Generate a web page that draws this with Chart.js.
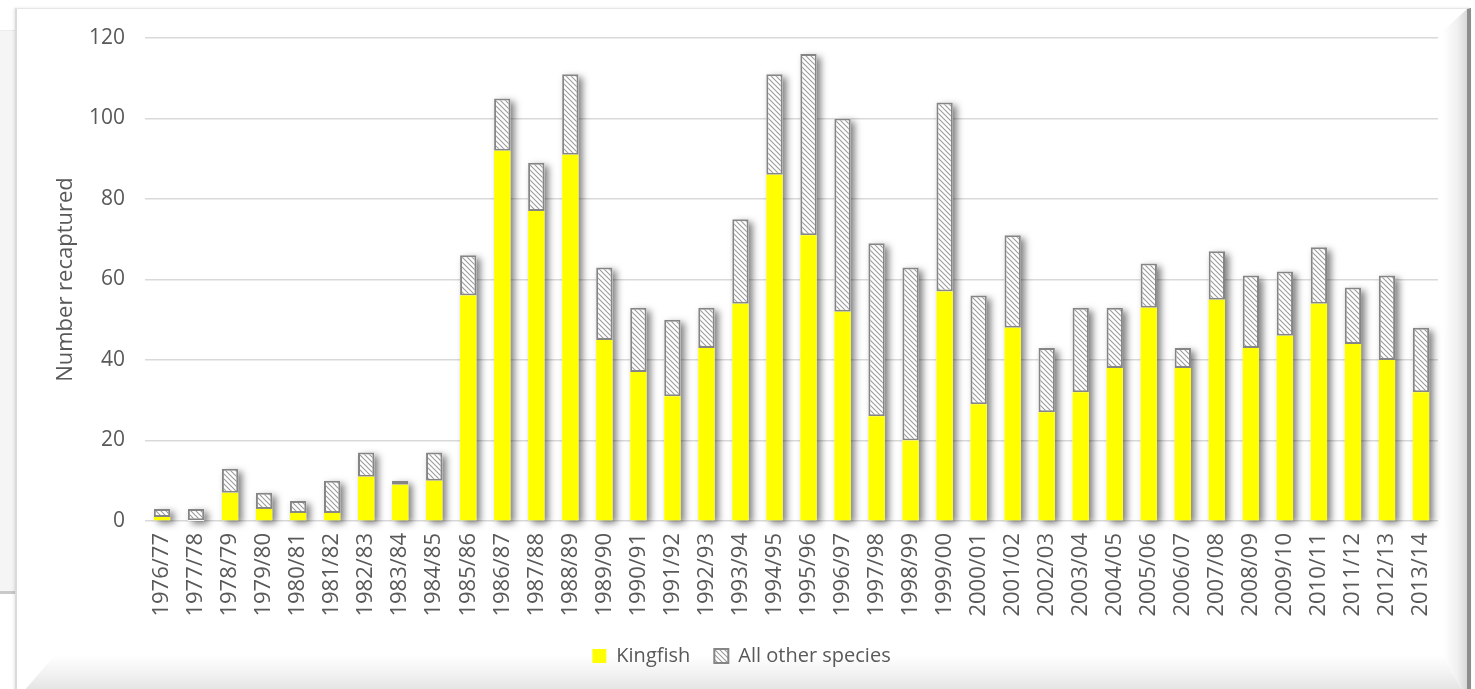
<!DOCTYPE html>
<html>
<head>
<meta charset="utf-8">
<script src="https://cdn.jsdelivr.net/npm/chart.js@4/dist/chart.umd.min.js"></script>
<style>
  html, body { margin: 0; padding: 0; background: #fff; width: 1475px; height: 689px; overflow: hidden; }
  #sidebox { position: absolute; left: 0; top: 30px; width: 16px; height: 560px; background: #f5f5f5; border-top: 1px solid #ececec; border-bottom: 3px solid #c9c9c9; }
  #card { position: absolute; left: 15px; top: 8px; width: 1450px; height: 690px; background: #fff;
          border-left: 2px solid #dadada; border-top: 1px solid #e6e6e6; border-right: 4px solid #8d8d8d;
          box-shadow: -1px 0 3px rgba(0,0,0,0.10); }
  #bevelB { position: absolute; left: 0; bottom: 0; width: 100%; height: 44px;
            background: linear-gradient(to bottom, #ffffff 0%, #f1f1f1 45%, #dcdcdc 100%);
            clip-path: polygon(38px 0, calc(100% - 24px) 0, 100% 100%, 0 100%); }
  #bevelR { position: absolute; right: 0; top: 0; width: 24px; height: 100%;
            background: linear-gradient(to right, #ffffff 0%, #f0f0f0 60%, #d8d8d8 100%);
            clip-path: polygon(0 22px, 100% 0, 100% 100%, 0 calc(100% - 44px)); }
  #chart { position: absolute; left: 0; top: 0; }
</style>
</head>
<body>
<div id="sidebox"></div>
<div id="card"><div id="bevelB"></div><div id="bevelR"></div></div>
<canvas id="chart" width="1475" height="689"></canvas>
<script>
// Fishing seasons
const seasons = [
  '1976/77','1977/78','1978/79','1979/80','1980/81','1981/82','1982/83','1983/84','1984/85','1985/86',
  '1986/87','1987/88','1988/89','1989/90','1990/91','1991/92','1992/93','1993/94','1994/95','1995/96',
  '1996/97','1997/98','1998/99','1999/00','2000/01','2001/02','2002/03','2003/04','2004/05','2005/06',
  '2006/07','2007/08','2008/09','2009/10','2010/11','2011/12','2012/13','2013/14'
];

// Tagged fish recaptured per season
const kingfish = [
  1, 0, 7, 3, 2, 2, 11, 9, 10, 56,
  92, 77, 91, 45, 37, 31, 43, 54, 86, 71,
  52, 26, 20, 57, 29, 48, 27, 32, 38, 53,
  38, 55, 43, 46, 54, 44, 40, 32
];
const otherSpecies = [
  2, 3, 6, 4, 3, 8, 6, 1, 7, 10,
  13, 12, 20, 18, 16, 19, 10, 21, 25, 45,
  48, 43, 43, 47, 27, 23, 16, 21, 15, 11,
  5, 12, 18, 16, 14, 14, 21, 16
];

const yMax = 120;
const yStep = 20;

const TEXT = '#595959';
const FONT = "'Open Sans', 'Noto Sans', sans-serif";

// Diagonal hatch fill for the "other species" segments
function makeHatch() {
  const s = 5;
  const c = document.createElement('canvas');
  c.width = s; c.height = s;
  const g = c.getContext('2d');
  g.fillStyle = '#ffffff';
  g.fillRect(0, 0, s, s);
  g.strokeStyle = '#9b9b9b';
  g.lineWidth = 1.1;
  g.beginPath();
  g.moveTo(-1, -1); g.lineTo(s + 1, s + 1);
  g.moveTo(-1, s - 1); g.lineTo(1, s + 1);
  g.moveTo(s - 1, -1); g.lineTo(s + 1, 1);
  g.stroke();
  return g.createPattern(c, 'repeat');
}
const hatch = makeHatch();

// Soft drop shadow behind each full stacked column
const columnShadow = {
  id: 'columnShadow',
  beforeDatasetsDraw(chart) {
    const ctx = chart.ctx;
    const bottom = chart.getDatasetMeta(0).data;
    const top = chart.getDatasetMeta(1).data;
    ctx.save();
    ctx.shadowColor = 'rgba(0,0,0,0.5)';
    ctx.shadowBlur = 7;
    ctx.shadowOffsetX = 4;
    ctx.shadowOffsetY = 3;
    ctx.fillStyle = '#ffffff';
    top.forEach((bar, i) => {
      const p = bar.getProps(['x', 'y', 'width'], true);
      const base = bottom[i].getProps(['base'], true).base;
      ctx.fillRect(p.x - p.width / 2, p.y, p.width, base - p.y);
    });
    ctx.restore();
  }
};

new Chart(document.getElementById('chart'), {
  type: 'bar',
  data: {
    labels: seasons,
    datasets: [
      {
        label: 'Kingfish',
        data: kingfish,
        backgroundColor: '#ffff00',
        borderWidth: 0,
        barPercentage: 0.48,
        categoryPercentage: 1
      },
      {
        label: 'All other species',
        data: otherSpecies,
        backgroundColor: hatch,
        borderColor: '#858585',
        borderWidth: 2,
        borderSkipped: false,
        barPercentage: 0.48,
        categoryPercentage: 1
      }
    ]
  },
  options: {
    responsive: false,
    animation: false,
    layout: { padding: { left: 45, right: 37, top: 38, bottom: 13 } },
    plugins: {
      tooltip: { enabled: false },
      legend: {
        position: 'bottom',
        labels: {
          color: TEXT,
          font: { family: FONT, size: 20 },
          boxWidth: 14,
          boxHeight: 14,
          padding: 24
        }
      }
    },
    scales: {
      x: {
        stacked: true,
        grid: { display: false, drawTicks: false },
        border: { display: false },
        afterFit(scale) { scale.height = 101; },
        ticks: {
          color: TEXT,
          font: { family: FONT, size: 22 },
          minRotation: 90,
          maxRotation: 90,
          autoSkip: false,
          padding: 12
        }
      },
      y: {
        stacked: true,
        min: 0,
        max: yMax,
        grid: { color: '#d9d9d9', lineWidth: 1.5, drawTicks: false },
        border: { display: false },
        afterFit(scale) { scale.width = 100; },
        ticks: {
          stepSize: yStep,
          color: TEXT,
          font: { family: FONT, size: 21 },
          padding: 20
        },
        title: {
          display: true,
          text: 'Number recaptured',
          color: TEXT,
          font: { family: FONT, size: 22 },
          padding: { top: 8, bottom: 0 }
        }
      }
    }
  },
  plugins: [columnShadow]
});
</script>
</body>
</html>
